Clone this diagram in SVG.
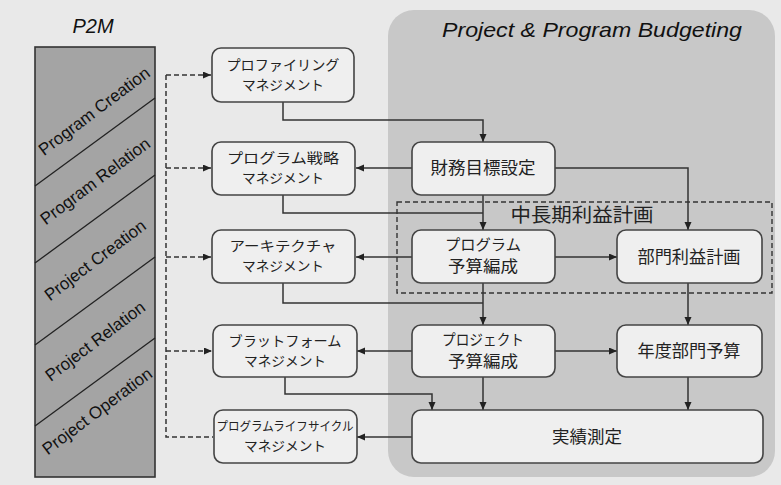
<svg xmlns="http://www.w3.org/2000/svg" width="781" height="485" viewBox="0 0 781 485">
<defs>
<marker id="ah" markerUnits="userSpaceOnUse" markerWidth="9" markerHeight="8" refX="8" refY="3.5" orient="auto">
<path d="M0,0 L8,3.5 L0,7 z" fill="#222"/>
</marker>
<style>
.box{fill:#efefef;stroke:#444;stroke-width:1.6}
.jp{font-family:"Noto Sans CJK JP","Noto Sans",sans-serif;fill:#222;text-anchor:middle}
.en{font-family:"Liberation Sans",Arial,sans-serif;font-style:italic;fill:#111;text-anchor:middle}
.band{font-family:"Liberation Sans",Arial,sans-serif;font-size:17px;fill:#111;text-anchor:middle}
.ln{fill:none;stroke:#333;stroke-width:1.5}
.dash{fill:none;stroke:#333;stroke-width:1.5;stroke-dasharray:5 3}
</style>
</defs>
<rect x="0" y="0" width="781" height="485" fill="#e9e9e9"/>
<rect x="388" y="10" width="387" height="467" rx="26" fill="#c8c8c8"/>
<text class="en" x="592" y="37" font-size="21" textLength="300" lengthAdjust="spacingAndGlyphs">Project &amp; Program Budgeting</text>

<g id="p2m">
<text class="en" x="93" y="33" font-size="20">P2M</text>
<rect x="35" y="47" width="120" height="430" fill="#a4a4a4" stroke="#333" stroke-width="1.6"/>
<g stroke="#222" stroke-width="1.3">
<line x1="35" y1="186" x2="155" y2="98"/>
<line x1="35" y1="263" x2="155" y2="175"/>
<line x1="35" y1="345" x2="155" y2="257"/>
<line x1="35" y1="426" x2="155" y2="338"/>
</g>
<text class="band" transform="translate(94,111) rotate(-37)" y="6">Program Creation</text>
<text class="band" transform="translate(95,181) rotate(-37)" y="6">Program Relation</text>
<text class="band" transform="translate(95,260) rotate(-37)" y="6">Project Creation</text>
<text class="band" transform="translate(95,341) rotate(-37)" y="6">Project Relation</text>
<text class="band" transform="translate(97,411) rotate(-37)" y="6">Project Operation</text>
</g>

<g id="midterm">
<rect x="397" y="202" width="375" height="91" fill="none" stroke="#333" stroke-width="1.4" stroke-dasharray="5 3"/>
<text class="jp" x="582" y="222" font-size="19" textLength="143" lengthAdjust="spacingAndGlyphs">中長期利益計画</text>
</g>

<g id="connectors">
<path class="dash" d="M166,75 V437 H213"/>
<path class="dash" d="M166,75 H211" marker-end="url(#ah)"/>
<path class="dash" d="M166,168 H211" marker-end="url(#ah)"/>
<path class="dash" d="M166,257 H211" marker-end="url(#ah)"/>
<path class="dash" d="M166,351 H212" marker-end="url(#ah)"/>

<path class="ln" d="M283,102 V120 H483 V142" marker-end="url(#ah)"/>
<path class="ln" d="M412,168 H356" marker-end="url(#ah)"/>
<path class="ln" d="M283,195 V213 H483"/>
<path class="ln" d="M483,195 V230" marker-end="url(#ah)"/>
<path class="ln" d="M555,168 H688 V230" marker-end="url(#ah)"/>
<path class="ln" d="M412,257 H356" marker-end="url(#ah)"/>
<path class="ln" d="M555,257 H617" marker-end="url(#ah)"/>
<path class="ln" d="M283,283 V303 H483"/>
<path class="ln" d="M483,283 V325" marker-end="url(#ah)"/>
<path class="ln" d="M688,283 V325" marker-end="url(#ah)"/>
<path class="ln" d="M412,351 H357" marker-end="url(#ah)"/>
<path class="ln" d="M555,351 H617" marker-end="url(#ah)"/>
<path class="ln" d="M285,377 V394 H432 V410" marker-end="url(#ah)"/>
<path class="ln" d="M483,377 V410" marker-end="url(#ah)"/>
<path class="ln" d="M688,377 V410" marker-end="url(#ah)"/>
<path class="ln" d="M412,437 H357" marker-end="url(#ah)"/>
</g>

<g id="profiling">
<rect class="box" x="212" y="48" width="142" height="54" rx="9"/>
<text class="jp" x="283" y="70" font-size="14" textLength="113" lengthAdjust="spacingAndGlyphs">プロファイリング</text>
<text class="jp" x="283" y="90" font-size="13.5" textLength="82" lengthAdjust="spacingAndGlyphs">マネジメント</text>
</g>
<g id="strategy">
<rect class="box" x="212" y="142" width="143" height="53" rx="9"/>
<text class="jp" x="283" y="163" font-size="14" textLength="112" lengthAdjust="spacingAndGlyphs">プログラム戦略</text>
<text class="jp" x="283" y="183" font-size="13.5" textLength="82" lengthAdjust="spacingAndGlyphs">マネジメント</text>
</g>
<g id="architecture">
<rect class="box" x="212" y="230" width="143" height="53" rx="9"/>
<text class="jp" x="283" y="251" font-size="14" textLength="107" lengthAdjust="spacingAndGlyphs">アーキテクチャ</text>
<text class="jp" x="283" y="271" font-size="13.5" textLength="82" lengthAdjust="spacingAndGlyphs">マネジメント</text>
</g>
<g id="platform">
<rect class="box" x="213" y="325" width="144" height="52" rx="9"/>
<text class="jp" x="285" y="346" font-size="14" textLength="113" lengthAdjust="spacingAndGlyphs">ブラットフォーム</text>
<text class="jp" x="285" y="366" font-size="13.5" textLength="82" lengthAdjust="spacingAndGlyphs">マネジメント</text>
</g>
<g id="lifecycle">
<rect class="box" x="214" y="410" width="143" height="53" rx="9"/>
<text class="jp" x="285" y="431" font-size="12.5" textLength="137" lengthAdjust="spacingAndGlyphs">プログラムライフサイクル</text>
<text class="jp" x="285" y="451" font-size="13.5" textLength="82" lengthAdjust="spacingAndGlyphs">マネジメント</text>
</g>

<g id="fin-target">
<rect class="box" x="412" y="142" width="143" height="53" rx="9"/>
<text class="jp" x="483" y="174" font-size="17" textLength="105" lengthAdjust="spacingAndGlyphs">財務目標設定</text>
</g>
<g id="program-budget">
<rect class="box" x="412" y="230" width="143" height="53" rx="9"/>
<text class="jp" x="483" y="250" font-size="15" textLength="76" lengthAdjust="spacingAndGlyphs">プログラム</text>
<text class="jp" x="483" y="272" font-size="16" textLength="70" lengthAdjust="spacingAndGlyphs">予算編成</text>
</g>
<g id="dept-profit">
<rect class="box" x="617" y="230" width="145" height="53" rx="9"/>
<text class="jp" x="689" y="263" font-size="17" textLength="103" lengthAdjust="spacingAndGlyphs">部門利益計画</text>
</g>
<g id="project-budget">
<rect class="box" x="412" y="325" width="143" height="52" rx="9"/>
<text class="jp" x="483" y="345" font-size="15" textLength="82" lengthAdjust="spacingAndGlyphs">プロジェクト</text>
<text class="jp" x="483" y="367" font-size="16" textLength="70" lengthAdjust="spacingAndGlyphs">予算編成</text>
</g>
<g id="annual-dept">
<rect class="box" x="617" y="325" width="145" height="52" rx="9"/>
<text class="jp" x="689" y="357" font-size="17" textLength="103" lengthAdjust="spacingAndGlyphs">年度部門予算</text>
</g>
<g id="actuals">
<rect class="box" x="412" y="410" width="351" height="53" rx="9"/>
<text class="jp" x="587" y="443" font-size="17" textLength="70" lengthAdjust="spacingAndGlyphs">実績測定</text>
</g>
</svg>
